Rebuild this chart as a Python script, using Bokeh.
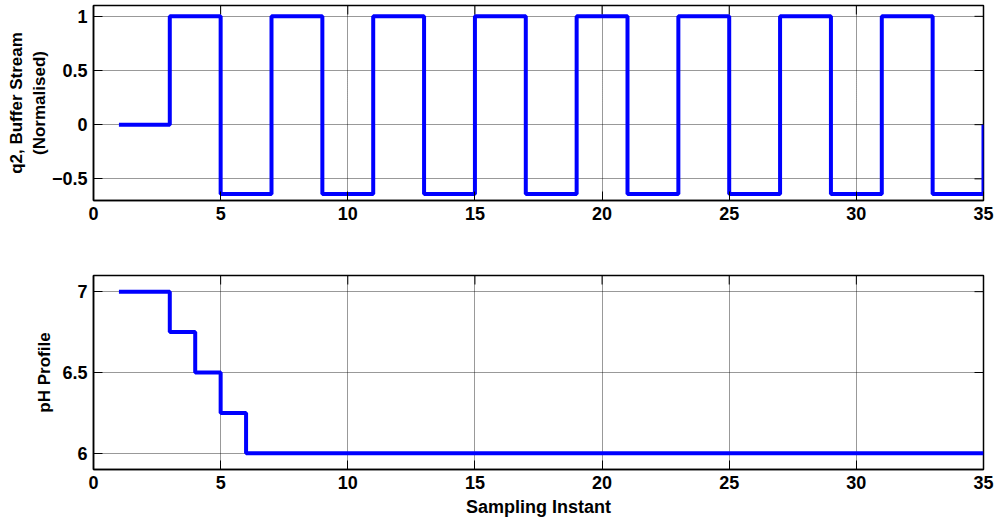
from bokeh.plotting import figure
from bokeh.layouts import column
from bokeh.models import Range1d, FixedTicker
from bokeh.embed import file_html
from bokeh.resources import INLINE
import math

# Sampling instants and the two recorded signals
samples = list(range(1, 36))
q2_buffer = [0, 0, 1, 1, -0.64, -0.64, 1, 1, -0.64, -0.64,
             1, 1, -0.64, -0.64, 1, 1, -0.64, -0.64, 1, 1,
             -0.64, -0.64, 1, 1, -0.64, -0.64, 1, 1, -0.64, -0.64,
             1, 1, -0.64, -0.64, 0]
ph_profile = [7, 7, 6.75, 6.5, 6.25] + [6] * 30

x_ticks = [0, 5, 10, 15, 20, 25, 30, 35]
q2_ticks = [-0.5, 0, 0.5, 1]
ph_ticks = [6, 6.5, 7]

FONT = "Liberation Sans"
LINE_BLUE = "#0000ff"
TICK_LEN = 9


def style_axis(ax, ticks):
    ax.ticker = FixedTicker(ticks=ticks)
    ax.major_tick_in = TICK_LEN
    ax.major_tick_out = 0
    ax.minor_tick_in = 0
    ax.minor_tick_out = 0
    ax.axis_line_color = "black"
    ax.axis_line_width = 1.5
    ax.major_tick_line_color = "black"
    ax.major_tick_line_width = 1
    ax.major_label_text_font = FONT
    ax.major_label_text_font_style = "bold"
    ax.major_label_text_color = "black"
    ax.major_label_text_font_size = "18px"
    ax.major_label_standoff = 6
    ax.axis_label_text_font = FONT
    ax.axis_label_text_font_style = "bold"
    ax.axis_label_text_font_size = "17px"
    ax.axis_label_text_color = "black"


def make_panel(y, y_range, y_ticks, y_label, label_gap, height, top, bottom,
               x_label=None):
    x_range = Range1d(0, 35)
    p = figure(width=995, height=height, output_backend="svg",
               toolbar_location=None,
               x_range=x_range, y_range=Range1d(*y_range),
               min_border_left=93, min_border_right=12,
               min_border_top=top, min_border_bottom=bottom)
    p.background_fill_color = "white"
    p.border_fill_color = "white"
    p.outline_line_color = "black"
    p.outline_line_width = 1.5

    style_axis(p.xaxis[0], x_ticks)
    style_axis(p.yaxis[0], y_ticks)
    p.yaxis[0].axis_label = y_label
    p.yaxis[0].axis_label_standoff = label_gap
    if x_label:
        p.xaxis[0].axis_label = x_label
        p.xaxis[0].axis_label_standoff = 5
        p.xaxis[0].axis_label_text_font_size = "18px"

    for g in (p.xgrid[0], p.ygrid[0]):
        g.grid_line_color = "black"
        g.grid_line_alpha = 0.8
        g.grid_line_dash = "1 1"
        g.grid_line_width = 1
    p.xgrid[0].ticker = FixedTicker(ticks=x_ticks)
    p.ygrid[0].ticker = FixedTicker(ticks=y_ticks)

    # tick marks along the top and right edges of the box (outer half is
    # clipped by the frame, leaving inward ticks)
    p.scatter(x_ticks, [y_range[1]] * len(x_ticks),
              marker="dash", size=2 * TICK_LEN, angle=math.pi / 2,
              line_color="black", line_width=1)
    p.scatter([x_range.end] * len(y_ticks), y_ticks,
              marker="dash", size=2 * TICK_LEN,
              line_color="black", line_width=1)

    p.step(samples, y, mode="after", line_color=LINE_BLUE, line_width=4)
    return p


top_panel = make_panel(q2_buffer, (-0.7, 1.1), q2_ticks,
                       "q2, Buffer Stream\n(Normalised)", 0, 250, 5, 50)
bottom_panel = make_panel(ph_profile, (5.9, 7.1), ph_ticks,
                          "pH Profile", 5, 270, 25, 51,
                          x_label="Sampling Instant")

layout = column(top_panel, bottom_panel, spacing=0)

with open("out.html", "w") as f:
    f.write(file_html(layout, INLINE))
